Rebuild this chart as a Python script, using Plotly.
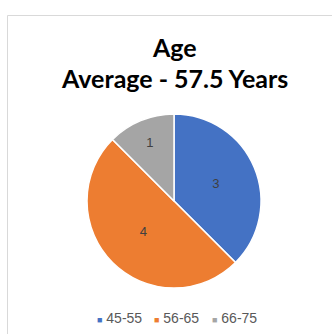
import plotly.graph_objects as go

categories = ["45-55", "56-65", "66-75"]
values = [3, 4, 1]
colors = ["#4472C4", "#ED7D31", "#A5A5A5"]
title_lines = ["Age", "Average - 57.5 Years"]

W, H = 332, 334

fig = go.Figure(go.Pie(
    labels=categories,
    values=values,
    sort=False,
    direction="clockwise",
    rotation=0,
    marker=dict(colors=colors, line=dict(color="white", width=1.5)),
    textinfo="value",
    textposition="inside",
    insidetextfont=dict(family="Liberation Sans, Arial", size=13, color="#404040"),
    insidetextorientation="horizontal",
    domain=dict(x=[(174 - 87) / W, (174 + 87) / W], y=[1 - 288 / H, 1 - 114 / H]),
    hoverinfo="label+value",
    showlegend=False,
))

annotations = []
title_y = [47, 78]
for line, yy in zip(title_lines, title_y):
    annotations.append(dict(
        text="<b>" + line + "</b>", xref="paper", yref="paper",
        x=174 / W, y=1 - yy / H, xanchor="center", yanchor="middle",
        showarrow=False,
        font=dict(family="Lato, Open Sans, sans-serif", size=25, color="#000000"),
    ))

legend_x = [119, 176, 234]
for cat, col, lx in zip(categories, colors, legend_x):
    annotations.append(dict(
        text="<span style='color:%s;font-size:9px'>■</span> %s" % (col, cat),
        xref="paper", yref="paper", x=lx / W, y=1 - 318 / H,
        xanchor="center", yanchor="middle", showarrow=False,
        font=dict(family="Liberation Sans, Arial", size=14, color="#595959"),
    ))

fig.update_layout(
    width=W, height=H,
    margin=dict(l=0, r=0, t=0, b=0),
    paper_bgcolor="white",
    showlegend=False,
    annotations=annotations,
    shapes=[dict(
        type="rect", xref="paper", yref="paper",
        x0=7.5 / W, x1=1.05, y0=-0.05, y1=1 - 15.5 / H,
        line=dict(color="#D9D9D9", width=1), fillcolor="rgba(0,0,0,0)",
        layer="below",
    )],
)

fig.write_html("out.html")
